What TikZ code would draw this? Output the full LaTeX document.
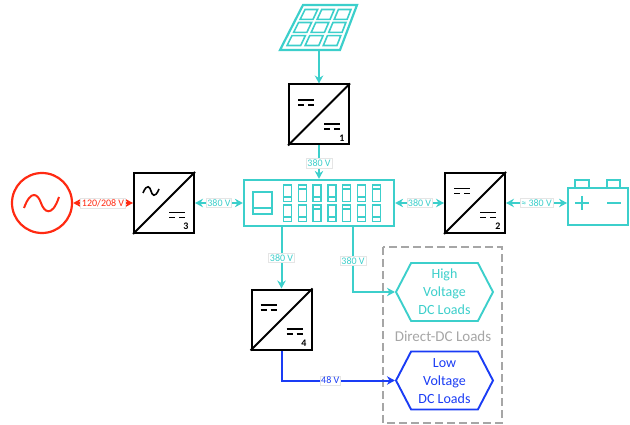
\documentclass[tikz,border=0pt]{standalone}
\usepackage{fontspec}
\setmainfont{Carlito}
\usepackage{tikz}
\usetikzlibrary{calc,positioning,arrows.meta,shapes.symbols}

\definecolor{dcteal}{HTML}{3CCFCB}
\definecolor{acred}{HTML}{FF2A12}
\definecolor{lowblue}{HTML}{1A3CF5}
\definecolor{boxgray}{HTML}{A6A6A6}

\tikzset{
	conv/.style={draw=black,line width=2pt,minimum size=60pt,inner sep=0pt},
	symline/.style={draw=black,line width=1.3pt},
	tealline/.style={draw=dcteal,line width=1.9pt},
	flow/.style={line width=2pt,-{Stealth[length=8pt,width=8.5pt]}},
	flowboth/.style={line width=2pt,{Stealth[length=8pt,width=8.5pt]}-{Stealth[length=8pt,width=8.5pt]}},
	voltlabel/.style={draw=black!10,fill=white,inner sep=1.2pt,line width=0.5pt,font=\fontsize{10}{10}\selectfont},
	load/.style={signal,signal to=west and east,signal pointer angle=125,line width=1.9pt,fill=white,
		minimum width=97pt,minimum height=58pt,inner sep=0pt,align=center,font=\fontsize{14}{18}\selectfont},
	convnum/.style={inner sep=0pt,font=\fontsize{10}{10}\selectfont\bfseries}
}

\newcommand{\dcmark}[1]{
	\draw[symline] ($(#1)+(-8,-2.5)$) -- ++(16,0);
	\draw[symline] ($(#1)+(-8,2.5)$) -- ++(6,0);
	\draw[symline] ($(#1)+(2,2.5)$) -- ++(6,0);
}
\newcommand{\solarcell}[4]{
	\draw[tealline,line width=1.6pt]
		($($(PA)!#1!(PB)$)!#3!($(PD)!#1!(PC)$)$) --
		($($(PA)!#2!(PB)$)!#3!($(PD)!#2!(PC)$)$) --
		($($(PA)!#2!(PB)$)!#4!($(PD)!#2!(PC)$)$) --
		($($(PA)!#1!(PB)$)!#4!($(PD)!#1!(PC)$)$) -- cycle;
}
\newcommand{\hexline}[1]{\raisebox{-4.5pt}[0pt][0pt]{#1}}

\begin{document}
\begin{tikzpicture}[x=1pt,y=-1pt]
	\useasboundingbox (0,0) rectangle (630,425);

	\coordinate (PA) at (303,5);
	\coordinate (PB) at (357,5);
	\coordinate (PC) at (340,50);
	\coordinate (PD) at (280,50);
	\coordinate (panel) at (319,50);
	\coordinate (tap) at (353,226);

	\draw[boxgray,line width=2pt,dash pattern=on 8pt off 4pt] (383,247) rectangle (502,423);

	\node[conv] (conv1) at (319,114.5) {};
	\node[conv] (conv2) at (475,203) {};
	\node[conv] (conv3) at (164,203) {};
	\node[conv] (conv4) at (281.5,319.5) {};
	\node[draw=dcteal,line width=2.2pt,minimum width=150pt,minimum height=46pt,inner sep=0pt] (bus) at (319,203) {};
	\node[draw=acred,circle,line width=2.2pt,minimum size=60pt,inner sep=0pt] (grid) at (42,203) {};
	\node[draw=dcteal,line width=1.9pt,minimum width=60pt,minimum height=37pt,inner sep=0pt] (batt) at (598,206.5) {};
	\node[load,draw=dcteal,text=dcteal] (high) at (444.5,292) {\hexline{High}\\\hexline{Voltage}\\\hexline{DC Loads}};
	\node[load,draw=lowblue,text=lowblue] (low) at (444.5,380.5) {\hexline{Low}\\\hexline{Voltage}\\\hexline{DC Loads}};
	\node[text=boxgray,inner sep=0pt,font=\fontsize{15}{15}\selectfont] (direct) at (443,336) {Direct-DC Loads};

	\draw[tealline,line width=2.2pt] (PA) -- (PB) -- (PC) -- (PD) -- cycle;
	\foreach \ua/\ub in {0.08/0.31,0.385/0.615,0.69/0.92}
		\foreach \va/\vb in {0.1/0.32,0.39/0.61,0.68/0.9}
			{\solarcell{\ua}{\ub}{\va}{\vb}}

	\foreach \c in {conv1,conv2,conv3,conv4}
		\draw[black,line width=1.9pt] (\c.south west) -- (\c.north east);
	\dcmark{$(conv1)+(-13,-12)$}
	\dcmark{$(conv1)+(13,12)$}
	\dcmark{$(conv2)+(-13,-12)$}
	\dcmark{$(conv2)+(13,12)$}
	\dcmark{$(conv3)+(13,12)$}
	\dcmark{$(conv4)+(-13,-12)$}
	\dcmark{$(conv4)+(13,12)$}
	\draw[black,line width=1.6pt] (143,193) .. controls (147,183) and (150,187) .. (151,191) .. controls (152,195) and (155,199) .. (159,189);
	\draw[acred,line width=2pt] (24,208) .. controls (31,189) and (38,194) .. (41,203) .. controls (44,212) and (52,218) .. (59,197);

	\node[convnum] (num1) at (342,138) {1};
	\node[convnum] (num2) at (498,226) {2};
	\node[convnum] (num3) at (186,226) {3};
	\node[convnum] (num4) at (304,343) {4};

	% bus front panel
	\draw[tealline] (253,192) rectangle (272,214);
	\draw[tealline] (253,208) -- (272,208);
	\foreach \n/\ta/\tb in {0/197/217,1/189/217,2/197/209,3/197/217,4/189/209,5/197/217,6/189/217}
		{
		\draw[tealline,line width=1.5pt] (283.5+14.8*\n,185) rectangle ++(8,16.5);
		\draw[tealline,line width=1.5pt] (283.5+14.8*\n,205) rectangle ++(8,16.5);
		\draw[tealline,line width=1.3pt] (283.5+14.8*\n,\ta) -- ++(8,0);
		\draw[tealline,line width=1.3pt] (283.5+14.8*\n,\tb) -- ++(8,0);
		}

	% battery
	\draw[tealline] (575,188) -- (575,180) -- (589,180) -- (589,188);
	\draw[tealline] (607,188) -- (607,180) -- (620,180) -- (620,188);
	\draw[tealline] (575,203) -- (589,203) (582,196) -- (582,210);
	\draw[tealline] (607,203) -- (621,203);

	\draw[flow,dcteal] (panel) -- (conv1.north);
	\draw[flow,dcteal] (conv1.south) -- node[voltlabel,text=dcteal,pos=0.53] (v1) {380 V} (bus.north);
	\draw[flowboth,dcteal] (conv3.east) -- node[voltlabel,text=dcteal] (v3) {380 V} (bus.west);
	\draw[flowboth,dcteal] (bus.east) -- node[voltlabel,text=dcteal] (v2) {380 V} (conv2.west);
	\draw[flowboth,dcteal] (conv2.east) -- node[voltlabel,text=dcteal] (vb) {≈ 380 V} (batt.west |- conv2.east);
	\draw[flowboth,acred] (grid.east) -- node[voltlabel,text=acred] (vg) {120/208 V} (conv3.west);
	\draw[flow,dcteal] (conv4.north |- bus.south) -- node[voltlabel,text=dcteal,pos=0.5] (v4) {380 V} (conv4.north);
	\draw[flow,dcteal] (tap) |- node[voltlabel,text=dcteal,pos=0.265] (vh) {380 V} (high.west);
	\draw[flow,lowblue] (conv4.south) |- node[voltlabel,text=lowblue,pos=0.715] (vl) {48 V} (low.west);
\end{tikzpicture}
\end{document}
